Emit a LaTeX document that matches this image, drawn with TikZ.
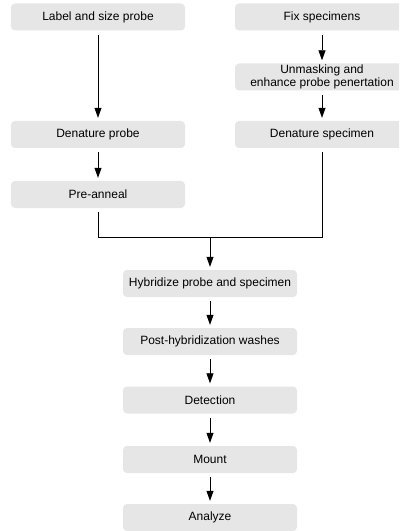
\documentclass[tikz,border=0pt]{standalone}
\usepackage{fontspec}
\setmainfont{Liberation Sans}
\usetikzlibrary{arrows.meta}
\definecolor{boxgray}{RGB}{230,230,230}
\tikzset{
  stepbox/.style={fill=boxgray, rounded corners=4bp, minimum width=174bp, minimum height=27bp,
    inner sep=0pt, align=center, font=\fontsize{12bp}{13bp}\selectfont},
  flow/.style={line width=0.8bp, -{Triangle[length=10bp,width=7bp]}, shorten <=4bp, shorten >=3bp},
  plain/.style={line width=0.8bp}
}
\begin{document}
\begin{tikzpicture}[x=1bp,y=-1bp]
\clip (0,0) rectangle (399,531);
\useasboundingbox (0,0) rectangle (399,531);
\node[stepbox] (lab) at (98,17) {Label and size probe};
\node[stepbox] (fix) at (322,17) {Fix specimens};
\node[stepbox] (unm) at (322,77) {Unmasking and\\enhance probe penertation};
\node[stepbox] (dprobe) at (98,134.5) {Denature probe};
\node[stepbox] (dspec) at (322,134.5) {Denature specimen};
\node[stepbox] (pre) at (98,194.5) {Pre-anneal};
\node[stepbox] (hyb) at (210,283.5) {Hybridize probe and specimen};
\node[stepbox] (post) at (210,341.5) {Post-hybridization washes};
\node[stepbox] (det) at (210,400) {Detection};
\node[stepbox] (mount) at (210,459.5) {Mount};
\node[stepbox] (ana) at (210,517.5) {Analyze};
\coordinate (junc) at (210,237);
\draw[flow] (lab) -- (dprobe);
\draw[flow] (fix) -- (unm);
\draw[flow] (unm) -- (dspec);
\draw[flow] (dprobe) -- (pre);
\draw[plain, shorten <=4bp, shorten >=4bp] (pre.south) -- (pre.south |- junc) -- (dspec.south |- junc) -- (dspec.south);
\draw[flow, shorten <=0bp] (junc) -- (hyb);
\draw[flow] (hyb) -- (post);
\draw[flow] (post) -- (det);
\draw[flow] (det) -- (mount);
\draw[flow] (mount) -- (ana);
\end{tikzpicture}
\end{document}
